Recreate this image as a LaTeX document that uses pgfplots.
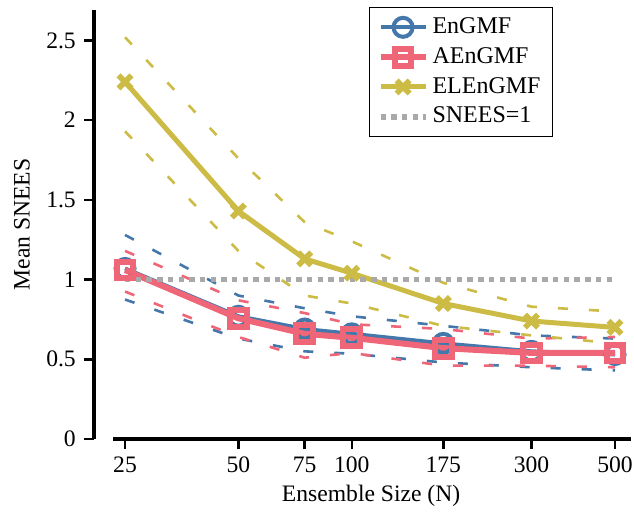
\documentclass[border=0pt]{standalone}
\usepackage{pgfplots}
\usepackage{pgfplotstable}
\pgfplotsset{compat=1.18}
\usepackage{fontspec}
\setmainfont{Liberation Serif}
\definecolor{tolblue}{HTML}{4477AA}
\definecolor{tolred}{HTML}{EE6677}
\definecolor{tolyellow}{HTML}{CCBB44}
\definecolor{sneesgray}{HTML}{A9A9A9}
\pgfplotstableread{
N    em    eu    el     am    au    al     lm    lu    ll
25   1.07  1.28  0.875  1.06  1.18  0.925  2.24  2.52  1.93
50   0.77  0.90  0.63   0.757 0.87  0.64   1.43  1.76  1.18
75   0.69  0.82  0.55   0.66  0.79  0.51   1.13  1.36  0.90
100  0.66  0.77  0.535  0.635 0.72  0.54   1.04  1.24  0.85
175  0.60  0.71  0.48   0.57  0.69  0.46   0.85  0.98  0.71
300  0.55  0.65  0.45   0.54  0.63  0.46   0.74  0.83  0.65
500  0.53  0.63  0.43   0.54  0.64  0.45   0.70  0.80  0.60
}\datatable
\begin{document}
\fontsize{11.8}{14}\selectfont
\begin{tikzpicture}
\begin{axis}[
  scale only axis, width=268.5pt, height=214.5pt,
  xmode=log,
  xmin=20.68, xmax=551.4, ymin=0, ymax=2.691,
  axis x line*=bottom, axis y line*=left,
  axis line style={line width=2pt},
  x axis line style={shorten <=9.5pt},
  xtick={25,50,75,100,175,300,500},
  xticklabels={25,50,75,100,175,300,500},
  xminorticks=false, yminorticks=false,
  ytick={0,0.5,1,1.5,2,2.5},
  yticklabels={0,0.5,1,1.5,2,2.5},
  tick align=outside,
  major tick length=5pt,
  every tick/.style={black, line width=1.25pt},
  /pgf/number format/assume math mode=true,
  xlabel={Ensemble Size (N)},
  ylabel={Mean SNEES},
  xlabel style={at={(axis description cs:0.516,-0.133)}, anchor=center},
  ylabel style={at={(axis description cs:-0.134,0.5)}, anchor=center},
  legend style={at={(axis description cs:0.855,1.007)}, anchor=north east,
    draw=black, line width=0.6pt, fill=white, row sep=1.2pt,
    inner xsep=4pt, inner ysep=3pt, font=\fontsize{12}{14}\selectfont},
  legend cell align=left,
  legend image code/.code={\draw[mark repeat=2,mark phase=2] plot coordinates {(0pt,0pt) (11.25pt,0pt) (22.5pt,0pt)};},
]
\addplot[tolblue, line width=2pt, mark=o, mark size=4.75pt, mark options={solid, line width=2pt}] table[x=N,y=em] \datatable;
\addlegendentry{EnGMF}
\addplot[tolblue, line width=1.3pt, dash pattern=on 5pt off 10.5pt, forget plot] table[x=N,y=eu] \datatable;
\addplot[tolblue, line width=1.3pt, dash pattern=on 5pt off 10.5pt, forget plot] table[x=N,y=el] \datatable;
\addplot[tolred, line width=3pt, mark=square, mark size=4.2pt, mark options={solid, line width=3pt}] table[x=N,y=am] \datatable;
\addlegendentry{AEnGMF}
\addplot[tolred, line width=1.3pt, dash pattern=on 5pt off 10.5pt, forget plot] table[x=N,y=au] \datatable;
\addplot[tolred, line width=1.3pt, dash pattern=on 5pt off 10.5pt, forget plot] table[x=N,y=al] \datatable;
\addplot[tolyellow, line width=2.5pt, mark=x, mark size=4.6pt, mark options={solid, line width=2.8pt}] table[x=N,y=lm] \datatable;
\addlegendentry{ELEnGMF}
\addplot[tolyellow, line width=1.3pt, dash pattern=on 5pt off 10.5pt, forget plot] table[x=N,y=lu] \datatable;
\addplot[tolyellow, line width=1.3pt, dash pattern=on 5pt off 10.5pt, forget plot] table[x=N,y=ll] \datatable;
\addplot[sneesgray, line width=2.7pt, dash pattern=on 2.7pt off 2.65pt] coordinates {(25,1) (500,1)};
\addlegendentry{SNEES=1}
\end{axis}
\pgfresetboundingbox
\path[use as bounding box] ([shift={(-47pt,-36pt)}]current axis.south west) rectangle ([shift={(1.5pt,5pt)}]current axis.north east);
\end{tikzpicture}
\end{document}
